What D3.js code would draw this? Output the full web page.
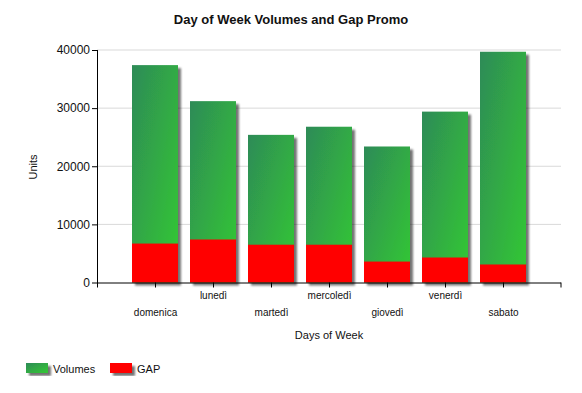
<!DOCTYPE html>
<html>
<head>
<meta charset="utf-8">
<script src="https://cdn.jsdelivr.net/npm/d3@7"></script>
<style>
  body { margin: 0; background: #fff; }
  text { font-family: Arial, "Liberation Sans", sans-serif; fill: #111; }
</style>
</head>
<body>
<div id="chart"></div>
<script>
const days = ['domenica', 'lunedì', 'martedì', 'mercoledì', 'giovedì', 'venerdì', 'sabato'];
const volumes = [37400, 31200, 25400, 26800, 23400, 29400, 39700];
const gap = [6700, 7400, 6500, 6500, 3600, 4300, 3100];
const yTicks = [0, 10000, 20000, 30000, 40000];

const width = 582, height = 393;
const margin = {top: 50, right: 21, bottom: 110.5, left: 97};
const innerW = width - margin.left - margin.right;
const innerH = height - margin.top - margin.bottom;

const svg = d3.select('#chart').append('svg')
  .attr('width', width).attr('height', height);

const defs = svg.append('defs');
const grad = defs.append('linearGradient').attr('id', 'greenGrad')
  .attr('x1', '0%').attr('y1', '0%').attr('x2', '100%').attr('y2', '100%');
grad.append('stop').attr('offset', '0%').attr('stop-color', '#2e8b57');
grad.append('stop').attr('offset', '100%').attr('stop-color', '#33c933');

const shadow = defs.append('filter').attr('id', 'shadow')
  .attr('x', '-20%').attr('y', '-20%').attr('width', '150%').attr('height', '150%');
shadow.append('feGaussianBlur').attr('in', 'SourceAlpha').attr('stdDeviation', 1.3).attr('result', 'blur');
shadow.append('feOffset').attr('in', 'blur').attr('dx', 3).attr('dy', 3).attr('result', 'off');
shadow.append('feComponentTransfer').attr('in', 'off').attr('result', 'soft')
  .append('feFuncA').attr('type', 'linear').attr('slope', 0.55);
const merge = shadow.append('feMerge');
merge.append('feMergeNode').attr('in', 'soft');
merge.append('feMergeNode').attr('in', 'SourceGraphic');

const g = svg.append('g').attr('transform', `translate(${margin.left},${margin.top})`);

const x = d3.scalePoint().domain(days).range([0, innerW]).padding(1);
const y = d3.scaleLinear().domain([0, 40000]).range([innerH, 0]);
const barW = 46;

// gridlines
g.selectAll('.grid').data(yTicks.slice(1)).enter().append('line')
  .attr('x1', 0).attr('x2', innerW)
  .attr('y1', d => y(d)).attr('y2', d => y(d))
  .attr('stroke', '#d9d9d9').attr('stroke-width', 1);

// volume bars
g.selectAll('.vol').data(days).enter().append('rect')
  .attr('x', d => x(d) - barW / 2)
  .attr('y', (d, i) => y(volumes[i]))
  .attr('width', barW)
  .attr('height', (d, i) => innerH - y(volumes[i]))
  .attr('fill', 'url(#greenGrad)')
  .attr('filter', 'url(#shadow)');

// gap bars
g.selectAll('.gap').data(days).enter().append('rect')
  .attr('x', d => x(d) - barW / 2)
  .attr('y', (d, i) => y(gap[i]))
  .attr('width', barW)
  .attr('height', (d, i) => innerH - y(gap[i]))
  .attr('fill', '#ff0000');

// y axis
const yAxis = g.append('g').call(d3.axisLeft(y).tickValues(yTicks).tickFormat(d3.format('d'))
  .tickSize(5).tickSizeOuter(0).tickPadding(2));
yAxis.select('.domain').remove();
yAxis.selectAll('line').attr('stroke', '#000');
yAxis.selectAll('text').style('font-size', '12px').attr('fill', '#111');
g.append('line').attr('x1', 0.5).attr('x2', 0.5).attr('y1', 0).attr('y2', innerH + 5)
  .attr('stroke', '#000');

// x axis
const xAxis = g.append('g').attr('transform', `translate(0,${innerH})`)
  .call(d3.axisBottom(x).tickSize(5).tickSizeOuter(0));
xAxis.select('.domain').remove();
xAxis.selectAll('line').attr('stroke', '#000');
xAxis.selectAll('text')
  .attr('y', (d, i) => i % 2 === 1 ? 9 : 26)
  .attr('dy', '0.71em')
  .style('font-size', '10px').attr('fill', '#111');
g.append('line').attr('x1', 0).attr('x2', innerW).attr('y1', innerH + 0.5).attr('y2', innerH + 0.5)
  .attr('stroke', '#000');
g.append('line').attr('x1', innerW).attr('x2', innerW).attr('y1', innerH).attr('y2', innerH + 5)
  .attr('stroke', '#000');

// titles
svg.append('text').attr('x', 291).attr('y', 24).attr('text-anchor', 'middle')
  .style('font-size', '13px').style('font-weight', 'bold').text('Day of Week Volumes and Gap Promo');
svg.append('text').attr('transform', 'translate(37,167) rotate(-90)').attr('text-anchor', 'middle')
  .style('font-size', '11px').text('Units');
svg.append('text').attr('x', 329).attr('y', 339).attr('text-anchor', 'middle')
  .style('font-size', '11px').text('Days of Week');

// legend
const legendItems = [
  {name: 'Volumes', fill: 'url(#greenGrad)', x: 26},
  {name: 'GAP', fill: '#ff0000', x: 110}
];
const lg = svg.selectAll('.legend').data(legendItems).enter().append('g')
  .attr('transform', d => `translate(${d.x},363)`);
lg.append('rect').attr('width', 22).attr('height', 10)
  .attr('fill', d => d.fill).attr('filter', 'url(#shadow)');
lg.append('text').attr('x', 27).attr('y', 9.5)
  .style('font-size', '11px').text(d => d.name);
</script>
</body>
</html>
